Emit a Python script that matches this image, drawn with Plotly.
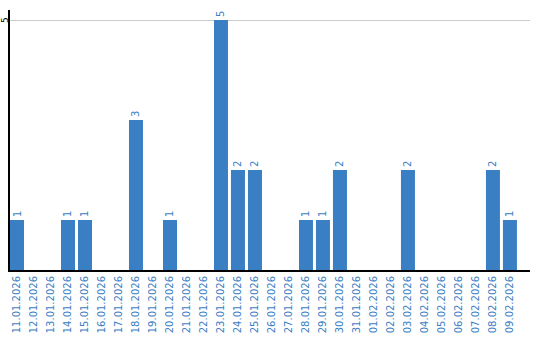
import plotly.graph_objects as go

dates = ["11.01.2026", "12.01.2026", "13.01.2026", "14.01.2026", "15.01.2026",
         "16.01.2026", "17.01.2026", "18.01.2026", "19.01.2026", "20.01.2026",
         "21.01.2026", "22.01.2026", "23.01.2026", "24.01.2026", "25.01.2026",
         "26.01.2026", "27.01.2026", "28.01.2026", "29.01.2026", "30.01.2026",
         "31.01.2026", "01.02.2026", "02.02.2026", "03.02.2026", "04.02.2026",
         "05.02.2026", "06.02.2026", "07.02.2026", "08.02.2026", "09.02.2026"]
counts = [1, 0, 0, 1, 1, 0, 0, 3, 0, 1,
          0, 0, 5, 2, 2, 0, 0, 1, 1, 2,
          0, 0, 0, 2, 0, 0, 0, 0, 2, 1]
y_ticks = [5]

BLUE = "#3a7ec3"
labels = [str(v) if v else "" for v in counts]

fig = go.Figure(go.Bar(
    x=list(range(len(dates))), y=counts,
    marker=dict(color=BLUE, line=dict(width=0)),
    text=labels, textposition="outside", textangle=-90,
    textfont=dict(family="DejaVu Sans", size=10, color=BLUE),
    constraintext="none", cliponaxis=False,
))

fig.update_layout(
    width=540, height=340,
    margin=dict(l=10, r=10, t=10, b=70),
    paper_bgcolor="white", plot_bgcolor="white",
    bargap=3/17, showlegend=False,
    font=dict(family="DejaVu Sans", size=10),
)
fig.update_xaxes(
    range=[-7/17, 30.18], tickmode="array",
    tickvals=list(range(len(dates))), ticktext=dates,
    tickangle=-90, tickfont=dict(color=BLUE, size=10, family="DejaVu Sans"),
    showgrid=False, showline=True, linecolor="black", linewidth=2,
    ticks="", zeroline=False, automargin=False,
)
fig.update_yaxes(
    range=[0, 5.2], tickmode="array", tickvals=y_ticks,
    showticklabels=False,
    showgrid=True, gridcolor="#cccccc", gridwidth=1,
    showline=True, linecolor="black", linewidth=2,
    ticks="", zeroline=False, automargin=False,
)
for v in y_ticks:
    fig.add_annotation(
        x=0, xref="paper", xanchor="center", xshift=-5,
        y=v, yref="y", yanchor="middle",
        text=str(v), textangle=-90, showarrow=False, borderpad=0,
        font=dict(color="black", size=9, family="DejaVu Sans"),
    )

fig.write_html("out.html")
